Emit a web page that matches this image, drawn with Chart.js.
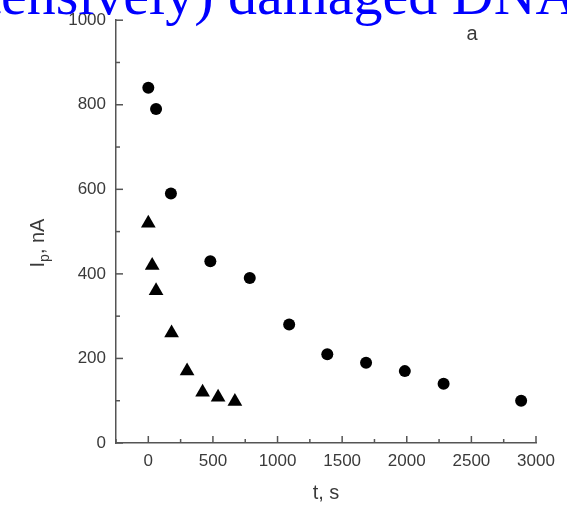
<!DOCTYPE html>
<html>
<head>
<meta charset="utf-8">
<script src="https://cdn.jsdelivr.net/npm/chart.js@4"></script>
<style>
  html, body { margin: 0; padding: 0; background: #fff; }
  #wrap { width: 567px; height: 510px; position: relative; }
</style>
</head>
<body>
<div id="wrap"><canvas id="chart" width="567" height="510"></canvas></div>
<script>
// Данные
var circleT = [0, 60, 175, 480, 785, 1090, 1385, 1685, 1985, 2285, 2885];
var circleI = [840, 790, 590, 430, 390, 280, 210, 190, 170, 140, 100];

var triT = [0, 30, 60, 180, 300, 420, 540, 670];
var triI = [520, 420, 360, 260, 170, 120, 108, 98];

var xMajor = [0, 500, 1000, 1500, 2000, 2500, 3000];
var yMajor = [0, 200, 400, 600, 800, 1000];

var titleText = '(extensively) damaged DNA';
var axisColor = '#555';
var labelColor = '#3a3a3a';

function toPoints(xs, ys) {
  return xs.map(function(x, i) { return { x: x, y: ys[i] }; });
}

// Засечки внутрь области графика + подписи осей и заголовок
var decorPlugin = {
  id: 'decor',
  afterDraw: function(chart) {
    var ctx = chart.ctx;
    var xs = chart.scales.x;
    var ys = chart.scales.y;
    var area = chart.chartArea;

    ctx.save();
    ctx.strokeStyle = axisColor;
    ctx.lineWidth = 1.5;
    xs.ticks.forEach(function(t) {
      var px = xs.getPixelForValue(t.value);
      var len = xMajor.indexOf(t.value) >= 0 ? 7 : 4;
      ctx.beginPath();
      ctx.moveTo(px, area.bottom);
      ctx.lineTo(px, area.bottom - len);
      ctx.stroke();
    });
    ys.ticks.forEach(function(t) {
      var py = ys.getPixelForValue(t.value);
      var len = yMajor.indexOf(t.value) >= 0 ? 7 : 4;
      ctx.beginPath();
      ctx.moveTo(area.left, py);
      ctx.lineTo(area.left + len, py);
      ctx.stroke();
    });

    // подпись оси Y: I с индексом p
    ctx.fillStyle = labelColor;
    ctx.translate(44, 243);
    ctx.rotate(-Math.PI / 2);
    ctx.textBaseline = 'alphabetic';
    var mainFont = '20px "Liberation Sans", Arial, sans-serif';
    var subFont = '14px "Liberation Sans", Arial, sans-serif';
    ctx.font = mainFont;
    var wI = ctx.measureText('I').width;
    var wRest = ctx.measureText(', nA').width;
    ctx.font = subFont;
    var wP = ctx.measureText('p').width;
    var total = wI + wP + wRest;
    var x0 = -total / 2;
    ctx.font = mainFont;
    ctx.textAlign = 'left';
    ctx.fillText('I', x0, 0);
    ctx.font = subFont;
    ctx.fillText('p', x0 + wI, 5);
    ctx.font = mainFont;
    ctx.fillText(', nA', x0 + wI + wP, 0);
    ctx.restore();

    // метка панели
    ctx.save();
    ctx.fillStyle = labelColor;
    ctx.font = '20px "Liberation Sans", Arial, sans-serif';
    ctx.textAlign = 'center';
    ctx.textBaseline = 'middle';
    ctx.fillText('a', 472, 34);
    ctx.restore();

    // обрезанный синий заголовок слайда
    ctx.save();
    ctx.fillStyle = '#0000ff';
    ctx.font = '58px "Liberation Serif", "Times New Roman", serif';
    ctx.textAlign = 'left';
    ctx.textBaseline = 'alphabetic';
    var lead = ctx.measureText('(extensively) ').width;
    ctx.fillText(titleText, 228 - lead, 14);
    ctx.restore();
  }
};

var ctx = document.getElementById('chart').getContext('2d');
var chart = new Chart(ctx, {
  type: 'scatter',
  data: {
    datasets: [{
      label: 'circles',
      data: toPoints(circleT, circleI),
      pointStyle: 'circle',
      pointRadius: 6,
      backgroundColor: '#000',
      borderColor: '#000',
      borderWidth: 0
    }, {
      label: 'triangles',
      data: toPoints(triT, triI),
      pointStyle: 'triangle',
      pointRadius: 8.5,
      backgroundColor: '#000',
      borderColor: '#000',
      borderWidth: 0
    }]
  },
  options: {
    responsive: false,
    animation: false,
    layout: { padding: { left: 0, right: 31, top: 18, bottom: 0 } },
    plugins: {
      legend: { display: false },
      tooltip: { enabled: false }
    },
    scales: {
      x: {
        type: 'linear',
        min: -250,
        max: 3000,
        afterFit: function(scale) { scale.height = 67; },
        grid: { display: false, drawTicks: false },
        border: { display: true, color: axisColor, width: 1.5 },
        ticks: {
          stepSize: 250,
          autoSkip: false,
          maxRotation: 0,
          padding: 8,
          color: labelColor,
          font: { family: '"Liberation Sans", Arial, sans-serif', size: 17 },
          callback: function(v) { return xMajor.indexOf(v) >= 0 ? String(v) : ''; }
        },
        title: {
          display: true,
          text: 't, s',
          color: labelColor,
          padding: { top: 0, bottom: 5 },
          font: { family: '"Liberation Sans", Arial, sans-serif', size: 20 }
        }
      },
      y: {
        type: 'linear',
        min: 0,
        max: 1000,
        afterFit: function(scale) { scale.width = 116; },
        grid: { display: false, drawTicks: false },
        border: { display: true, color: axisColor, width: 1.5 },
        ticks: {
          stepSize: 100,
          autoSkip: false,
          padding: 10,
          color: labelColor,
          font: { family: '"Liberation Sans", Arial, sans-serif', size: 17 },
          callback: function(v) { return yMajor.indexOf(v) >= 0 ? String(v) : ''; }
        }
      }
    }
  },
  plugins: [decorPlugin]
});
</script>
</body>
</html>
